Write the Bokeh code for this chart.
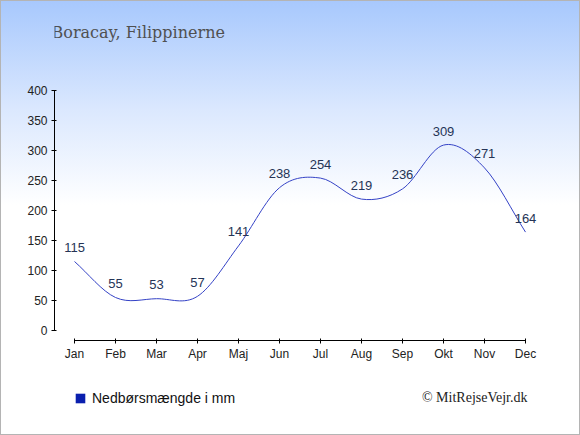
from bokeh.plotting import figure
from bokeh.layouts import column
from bokeh.models import Range1d, Label, Legend, LegendItem, FixedTicker
from bokeh.core.properties import value
from bokeh.embed import file_html
from bokeh.resources import INLINE

# ---- data ----
months = ["Jan", "Feb", "Mar", "Apr", "Maj", "Jun", "Jul", "Aug", "Sep", "Okt", "Nov", "Dec"]
rain = [115, 55, 53, 57, 141, 238, 254, 219, 236, 309, 271, 164]
y_ticks = [0, 50, 100, 150, 200, 250, 300, 350, 400]
title_text = "Boracay, Filippinerne"
legend_text = "Nedbørsmængde i mm"
credit_text = "\u00a9 MitRejseVejr.dk"

W = 580
TOP_H, MID_H, BOT_H = 60, 310, 65
FRAME_L = 54  # frame left edge shared by all three strips


def blank_fig(h):
    f = figure(width=W, height=h, output_backend="svg", toolbar_location=None,
               x_range=Range1d(0, 1), y_range=Range1d(0, 1),
               min_border_left=FRAME_L, min_border_right=0,
               min_border_top=0, min_border_bottom=0)
    f.axis.visible = False
    f.grid.visible = False
    f.outline_line_color = None
    f.background_fill_color = None
    f.border_fill_color = None
    return f


# ---- title strip ----
top = blank_fig(TOP_H)
top.add_layout(Label(x=51 - FRAME_L, y=TOP_H - 32, x_units="screen", y_units="screen",
                     text=title_text, text_font="DejaVu Serif", text_font_size="16px",
                     text_color="#505050", text_baseline="middle"))

# ---- chart ----
PX_PER_MONTH = 41.0
PX_PER_MM = 0.6
frame_w = W - FRAME_L
x0 = -20 / PX_PER_MONTH

p = figure(width=W, height=MID_H, output_backend="svg", toolbar_location=None,
           x_range=Range1d(x0, x0 + frame_w / PX_PER_MONTH),
           y_range=Range1d(-10 / PX_PER_MM, 400),
           min_border_left=FRAME_L, min_border_right=0,
           min_border_top=30, min_border_bottom=30)
p.background_fill_color = None
p.border_fill_color = None
p.outline_line_color = None
p.grid.visible = False

for ax in (p.xaxis[0], p.yaxis[0]):
    ax.axis_line_color = "#000000"
    ax.major_tick_line_color = "#000000"
    ax.major_tick_in = 2
    ax.major_tick_out = 3
    ax.minor_tick_line_color = None
    ax.major_label_text_font = "Liberation Sans"
    ax.major_label_text_font_size = "12px"
    ax.major_label_text_color = "#222222"

p.xaxis.ticker = FixedTicker(ticks=list(range(len(months))))
p.xaxis.major_label_overrides = {i: m for i, m in enumerate(months)}
p.xaxis.bounds = (0, len(months) - 1)
p.xaxis.major_label_standoff = 3

p.yaxis.ticker = FixedTicker(ticks=y_ticks)
p.yaxis.bounds = (y_ticks[0], y_ticks[-1])
p.yaxis.major_label_standoff = 4

# smooth curve (Catmull-Rom through the data points, drawn as cubic Beziers)
n = len(rain)
xs = list(range(n))
tang = []
for i in range(n):
    if i == 0:
        tang.append(rain[1] - rain[0])
    elif i == n - 1:
        tang.append(rain[-1] - rain[-2])
    else:
        tang.append((rain[i + 1] - rain[i - 1]) / 2)
p.bezier(x0=xs[:-1], y0=rain[:-1], x1=xs[1:], y1=rain[1:],
         cx0=[x + 1 / 3 for x in xs[:-1]], cy0=[rain[i] + tang[i] / 3 for i in range(n - 1)],
         cx1=[x - 1 / 3 for x in xs[1:]], cy1=[rain[i + 1] - tang[i + 1] / 3 for i in range(n - 1)],
         line_color="#3442c6", line_width=1)

p.text(x=xs, y=rain, text=[str(v) for v in rain], text_align="center",
       text_baseline="alphabetic", y_offset=-14,
       text_font=value("Liberation Sans"), text_font_size="13px", text_color="#253456")

# ---- legend / credit strip ----
bot = blank_fig(BOT_H)
bot.add_layout(Label(x=527 - FRAME_L, y=BOT_H - 27, x_units="screen", y_units="screen",
                     text=credit_text, text_font="Liberation Serif", text_font_size="14px",
                     text_color="#222222", text_baseline="middle", text_align="right"))
swatch = bot.quad(left=[0], right=[1], top=[1], bottom=[0],
                  fill_color="#0a1fae", line_color=None, visible=False)
legend = Legend(items=[LegendItem(label=legend_text, renderers=[swatch])],
                location=(20, BOT_H - 28 - 8), background_fill_alpha=0, border_line_color=None,
                inactive_fill_alpha=0,
                label_text_font="Liberation Sans", label_text_font_size="14px",
                label_text_color="#111111", glyph_width=12, glyph_height=12,
                padding=0, margin=0, label_standoff=6, label_height=16)
bot.add_layout(legend)

root = column(top, p, bot, spacing=0)
root.styles = {
    "background": "linear-gradient(to bottom, #a7c8fd 0px, #dbe8fe 110px, #ffffff 205px, #ffffff 100%)",
    "box-shadow": "inset 0 0 0 1px #b4b4b4",
}

open("out.html", "w").write(file_html(root, INLINE))
